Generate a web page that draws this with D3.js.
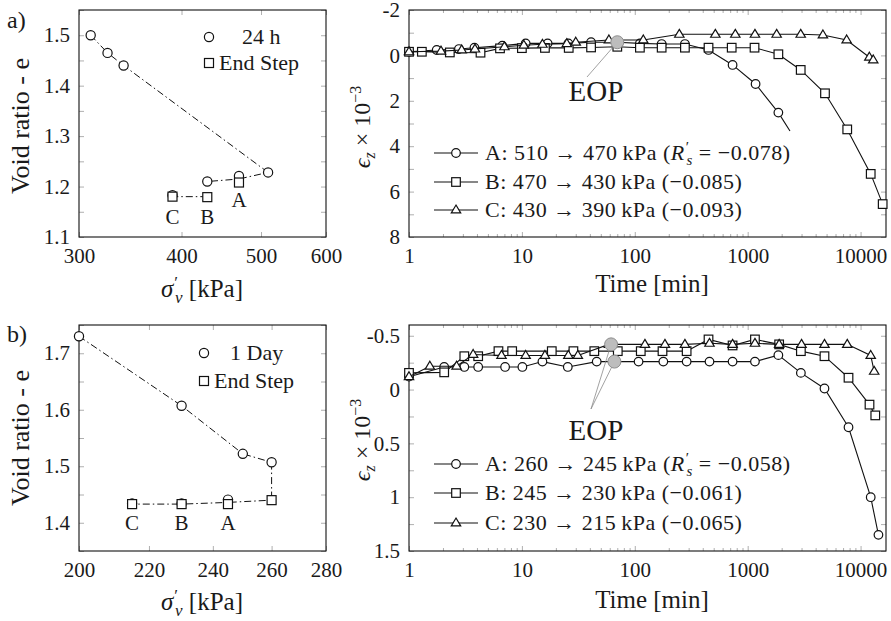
<!DOCTYPE html>
<html>
<head>
<meta charset="utf-8">
<script src="https://cdn.jsdelivr.net/npm/d3@7"></script>
<style>
  body { margin: 0; background: #fff; }
  text { font-family: "Liberation Serif", "DejaVu Serif", serif; fill: #1a1a1a; }
</style>
</head>
<body>
<svg id="fig" width="891" height="621"></svg>
<script>
// ---- a) void ratio vs stress, 24 h readings and end of step
const aStress24h = [310, 325, 340, 510, 470, 430, 390]
const aVoid24h = [1.50, 1.465, 1.44, 1.228, 1.221, 1.21, 1.183]
const aStressEnd = [470, 430, 390]
const aVoidEnd = [1.208, 1.179, 1.18]
const aLinkStress = [310, 325, 340, 510, 470, 430]
const aLinkVoid = [1.50, 1.465, 1.44, 1.228, 1.215, 1.21]
const aLink2Stress = [430, 390]
const aLink2Void = [1.18, 1.18]
const aStepNames = ['A', 'B', 'C']

// ---- a) strain vs time (x1e-3)
const aTimeA = [1, 1.76, 2.77, 3.8, 6.7, 10.8, 16.9, 25.8, 41, 70, 111, 173, 278, 450, 735, 1175, 1870, 2370]
const aStrainA = [-0.16, -0.24, -0.28, -0.34, -0.43, -0.53, -0.53, -0.53, -0.58, -0.58, -0.53, -0.5, -0.5, -0.24, 0.42, 1.26, 2.52, 3.33]
const aTimeB = [1, 1.3, 2.3, 4.3, 6.4, 10, 16, 26, 41, 70, 111, 173, 278, 450, 722, 1150, 1870, 2950, 4840, 7620, 12300, 15700]
const aStrainB = [-0.16, -0.16, -0.13, -0.12, -0.31, -0.32, -0.33, -0.33, -0.35, -0.38, -0.34, -0.34, -0.34, -0.34, -0.34, -0.34, -0.05, 0.64, 1.67, 3.26, 5.22, 6.55]
const aTimeC = [1, 1.92, 2.93, 3.84, 7.0, 10.4, 15.2, 25, 30, 59, 119, 248, 517, 777, 1160, 1806, 2950, 4640, 7530, 11960, 12950]
const aStrainC = [-0.16, -0.19, -0.24, -0.28, -0.38, -0.45, -0.49, -0.52, -0.58, -0.68, -0.68, -0.93, -0.93, -0.93, -0.93, -0.93, -0.93, -0.9, -0.68, 0.08, 0.2]
const aEopTime = [70]
const aEopStrain = [-0.58]
const aLegend = [
  ['A: 510 \u2192 470\u2009kPa (', true, '\u22120.078)'],
  ['B: 470 \u2192 430\u2009kPa (\u22120.085)', false],
  ['C: 430 \u2192 390\u2009kPa (\u22120.093)', false]
]

// ---- b) void ratio vs stress, 1 day readings and end of step
const bStress1d = [200, 230, 250, 260, 245, 230, 215]
const bVoid1d = [1.73, 1.607, 1.522, 1.507, 1.441, 1.434, 1.434]
const bStressEnd = [260, 245, 230, 215]
const bVoidEnd = [1.44, 1.433, 1.433, 1.433]
const bLinkStress = [200, 230, 250, 260, 260, 245, 230, 215]
const bLinkVoid = [1.73, 1.607, 1.522, 1.507, 1.44, 1.436, 1.433, 1.433]

// ---- b) strain vs time (x1e-3)
const bTimeA = [1, 2.05, 3.09, 4.1, 7.1, 10.1, 15.2, 25.5, 46, 66, 108, 179, 288, 459, 735, 1160, 1870, 2960, 4790, 7820, 12300, 14400]
const bStrainA = [-0.12, -0.21, -0.21, -0.21, -0.21, -0.21, -0.26, -0.21, -0.26, -0.26, -0.26, -0.26, -0.26, -0.26, -0.26, -0.26, -0.32, -0.155, -0.01, 0.35, 1.0, 1.35]
const bTimeB = [1, 2.05, 3.09, 4.1, 6.2, 8.2, 18.4, 28.6, 43.8, 70.7, 113, 176, 288, 450, 735, 1160, 1900, 2960, 4790, 7820, 12000, 13500]
const bStrainB = [-0.155, -0.16, -0.31, -0.31, -0.357, -0.357, -0.357, -0.357, -0.357, -0.357, -0.357, -0.357, -0.357, -0.466, -0.41, -0.466, -0.42, -0.357, -0.31, -0.11, 0.14, 0.24]
const bTimeC = [1, 1.53, 2.64, 3.7, 6.6, 10.8, 16, 25.8, 31.3, 59, 123, 185, 278, 459, 735, 1160, 1900, 3000, 4790, 7620, 12300, 13200]
const bStrainC = [-0.12, -0.217, -0.217, -0.326, -0.317, -0.317, -0.317, -0.317, -0.317, -0.42, -0.42, -0.42, -0.42, -0.43, -0.42, -0.43, -0.42, -0.42, -0.42, -0.42, -0.317, -0.17]
const bEopTime = [61.7, 66]
const bEopStrain = [-0.42, -0.26]
const bLegend = [
  ['A: 260 \u2192 245\u2009kPa (', true, '\u22120.058)'],
  ['B: 245 \u2192 230\u2009kPa (\u22120.061)', false],
  ['C: 230 \u2192 215\u2009kPa (\u22120.065)', false]
]

const svg = d3.select('#fig')
const tickGrey = '#9a9a9a'

// scales
const aStressX = d3.scaleLog().domain([300, 600]).range([79, 326])
const aVoidY = d3.scaleLinear().domain([1.1, 1.55]).range([237, 10])
const bStressX = d3.scaleLog().domain([200, 280]).range([79, 326])
const bVoidY = d3.scaleLinear().domain([1.35, 1.75]).range([551, 325])
const timeXa = d3.scaleLog().domain([1, 16800]).range([409, 886])
const timeXb = d3.scaleLog().domain([1, 16800]).range([409, 886])
const aStrainY = d3.scaleLinear().domain([-2, 8]).range([10, 237])
const bStrainY = d3.scaleLinear().domain([-0.6, 1.5]).range([325, 551])

function styleAxis(g, size) {
  g.attr('font-family', null).attr('font-size', size)
  g.select('.domain').remove()
  g.selectAll('.tick line').attr('stroke', tickGrey).attr('stroke-width', 0.8)
}

function frame(x, y, o) {
  const g = svg.append('g')
  const [x0, x1] = x.range()
  const yb = d3.max(y.range()), yt = d3.min(y.range())
  g.append('g').attr('transform', `translate(0,${yb})`)
    .call(d3.axisBottom(x).tickValues(o.xMajor).tickFormat(o.xFmt).tickSize(-5).tickPadding(11))
    .call(a => styleAxis(a, 21))
  g.append('g').attr('transform', `translate(0,${yt})`)
    .call(d3.axisTop(x).tickValues(o.xMajor).tickFormat('').tickSize(-5))
    .call(a => styleAxis(a, 21))
  if (o.xMinor) {
    g.append('g').attr('transform', `translate(0,${yb})`)
      .call(d3.axisBottom(x).tickValues(o.xMinor).tickFormat('').tickSize(-3))
      .call(a => styleAxis(a, 21))
    g.append('g').attr('transform', `translate(0,${yt})`)
      .call(d3.axisTop(x).tickValues(o.xMinor).tickFormat('').tickSize(-3))
      .call(a => styleAxis(a, 21))
  }
  g.append('g').attr('transform', `translate(${x0},0)`)
    .call(d3.axisLeft(y).tickValues(o.yTicks).tickFormat(o.yFmt).tickSize(-5).tickPadding(9))
    .call(a => styleAxis(a, 21))
  g.append('g').attr('transform', `translate(${x1},0)`)
    .call(d3.axisRight(y).tickValues(o.yTicks).tickFormat('').tickSize(-5))
    .call(a => styleAxis(a, 21))
  g.append('rect').attr('x', x0).attr('y', yt).attr('width', x1 - x0).attr('height', yb - yt)
    .attr('fill', 'none').attr('stroke', '#111').attr('stroke-width', 1.1)
}

function marker(g, kind, cx, cy, r) {
  if (kind === 'circle') {
    return g.append('circle').attr('cx', cx).attr('cy', cy).attr('r', r)
  }
  if (kind === 'square') {
    return g.append('rect').attr('x', cx - r).attr('y', cy - r).attr('width', 2 * r).attr('height', 2 * r)
  }
  const h = r * 1.15
  return g.append('path')
    .attr('d', `M${cx},${cy - h}L${cx + h * 0.95},${cy + h * 0.6}L${cx - h * 0.95},${cy + h * 0.6}Z`)
}

function markers(g, kind, xs, ys, x, y, r) {
  xs.forEach((v, i) => {
    marker(g, kind, x(v), y(ys[i]), r)
      .attr('fill', '#fff').attr('stroke', '#111').attr('stroke-width', 1.2)
  })
}

function dashLine(g, xs, ys, x, y) {
  g.append('path')
    .attr('d', d3.line().x(d => x(d[0])).y(d => y(d[1]))(xs.map((v, i) => [v, ys[i]])))
    .attr('fill', 'none').attr('stroke', '#111').attr('stroke-width', 1)
    .attr('stroke-dasharray', '7,3,1.5,3')
}

function series(g, kind, xs, ys, x, y, markCount) {
  g.append('path')
    .attr('d', d3.line().x(d => x(d[0])).y(d => y(d[1]))(xs.map((v, i) => [v, ys[i]])))
    .attr('fill', 'none').attr('stroke', '#111').attr('stroke-width', 1.1)
  const n = markCount == null ? xs.length : markCount
  markers(g, kind, xs.slice(0, n), ys.slice(0, n), x, y, 4.3)
}

function mathText(g, x, y, rot, size, parts) {
  const t = g.append('text').attr('font-size', size)
    .attr('transform', `translate(${x},${y}) rotate(${rot})`)
    .attr('text-anchor', 'middle')
  parts.forEach(p => {
    const s = t.append('tspan').text(p.t)
    if (p.i) s.attr('font-style', 'italic')
    if (p.s) s.attr('font-size', p.s)
    if (p.dx) s.attr('dx', p.dx)
    if (p.dy) s.attr('dy', p.dy)
  })
  return t
}

function sigmaLabel(g, x, y) {
  mathText(g, x, y, 0, 25, [
    { t: '\u03c3', i: true },
    { t: '\u2032', s: 17, dx: 1, dy: -9 },
    { t: 'v', i: true, s: 17, dx: -3, dy: 15 },
    { t: ' [kPa]', dy: -6 }
  ])
}

function strainLabel(g, x, y) {
  mathText(g, x, y, -90, 24, [
    { t: '\u03f5', i: true },
    { t: 'z', i: true, s: 16, dy: 5 },
    { t: ' \u00d7 10', dy: -5 },
    { t: '\u22123', s: 16, dy: -9 }
  ])
}

function voidPanel(x, y, o) {
  frame(x, y, { xMajor: o.xMajor, xFmt: d3.format('d'), yTicks: o.yTicks, yFmt: d => (Math.round(d * 100) % 10 === 0 ? d3.format('.1f')(d) : '') })
  const g = svg.append('g')
  dashLine(g, o.link1[0], o.link1[1], x, y)
  if (o.link2) dashLine(g, o.link2[0], o.link2[1], x, y)
  markers(g, 'circle', o.circ[0], o.circ[1], x, y, 4.6)
  markers(g, 'square', o.sq[0], o.sq[1], x, y, 4.5)
  o.names.forEach((nm, i) => {
    g.append('text').attr('x', x(o.namePos[0][i])).attr('y', o.namePos[1][i])
      .attr('text-anchor', 'middle').attr('font-size', 21).text(nm)
  })
  // legend
  const L = o.legend
  marker(g, 'circle', L.mx, L.y1, 4.6).attr('fill', '#fff').attr('stroke', '#111').attr('stroke-width', 1.2)
  g.append('text').attr('x', L.t1x).attr('y', L.y1 + 7).attr('font-size', 22).text(L.t1)
  marker(g, 'square', L.mx, L.y2, 4.5).attr('fill', '#fff').attr('stroke', '#111').attr('stroke-width', 1.2)
  g.append('text').attr('x', L.t2x).attr('y', L.y2 + 7).attr('font-size', 22).text('End Step')
  // labels
  g.append('text').attr('x', 0).attr('y', 0).attr('font-size', 26)
    .attr('transform', `translate(29,${o.ylabY}) rotate(-90)`).attr('text-anchor', 'middle')
    .text('Void ratio - e')
  sigmaLabel(g, 202, o.xlabY)
  g.append('text').attr('x', 7).attr('y', o.tagY).attr('font-size', 24).text(o.tag)
}

const decadeMinor = []
for (let e = 0; e <= 4; e++) for (let m = 2; m <= 9; m++) if (m * 10 ** e < 16800) decadeMinor.push(m * 10 ** e)

function timePanel(x, y, o) {
  frame(x, y, { xMajor: [1, 10, 100, 1000, 10000], xMinor: decadeMinor, xFmt: d3.format('d'), yTicks: o.yTicks, yFmt: o.yFmt })
  const g = svg.append('g')
  series(g, 'circle', o.A[0], o.A[1], x, y, o.aMarks)
  series(g, 'square', o.B[0], o.B[1], x, y)
  series(g, 'triangle', o.C[0], o.C[1], x, y)
  // EOP annotation
  o.eop[0].forEach((t, i) => {
    g.append('line').attr('x1', o.eopFrom[0]).attr('y1', o.eopFrom[1])
      .attr('x2', x(t)).attr('y2', y(o.eop[1][i]))
      .attr('stroke', '#8a8a8a').attr('stroke-width', 0.8)
  })
  o.eop[0].forEach((t, i) => {
    g.append('circle').attr('cx', x(t)).attr('cy', y(o.eop[1][i])).attr('r', 6.5)
      .attr('fill', '#bdbdbd').attr('stroke', '#8f8f8f').attr('stroke-width', 1)
  })
  g.append('text').attr('x', 596).attr('y', o.eopTextY).attr('text-anchor', 'middle')
    .attr('font-size', 29).text('EOP')
  // legend
  const kinds = ['circle', 'square', 'triangle']
  o.legend.forEach((row, i) => {
    const ly = o.legendY[i]
    g.append('line').attr('x1', 434).attr('x2', 478).attr('y1', ly).attr('y2', ly)
      .attr('stroke', '#111').attr('stroke-width', 1.1)
    marker(g, kinds[i], 456, ly, 4.3).attr('fill', '#fff').attr('stroke', '#111').attr('stroke-width', 1.2)
    const t = g.append('text').attr('x', 485).attr('y', ly + 7).attr('font-size', 22)
      .attr('letter-spacing', 0.5)
    t.append('tspan').text(row[0])
    if (row[1]) {
      t.append('tspan').attr('font-style', 'italic').text('R')
      t.append('tspan').attr('font-size', 15).attr('dx', 1).attr('dy', -8).text('\u2032')
      t.append('tspan').attr('font-size', 15).attr('font-style', 'italic').attr('dx', -3).attr('dy', 13).text('s')
      t.append('tspan').attr('dy', -5).text(' = ' + row[2])
    }
  })
  strainLabel(g, 370, o.ylabY)
  g.append('text').attr('x', 652).attr('y', o.xlabY).attr('text-anchor', 'middle')
    .attr('font-size', 25).text('Time [min]')
}

voidPanel(aStressX, aVoidY, {
  xMajor: [300, 400, 500, 600], yTicks: d3.range(1.1, 1.551, 0.05),
  link1: [aLinkStress, aLinkVoid], link2: [aLink2Stress, aLink2Void],
  circ: [aStress24h, aVoid24h], sq: [aStressEnd, aVoidEnd],
  names: aStepNames, namePos: [[470, 430, 390], [207, 224, 224]],
  legend: { mx: 209, y1: 37, y2: 63, t1: '24 h', t1x: 242, t2x: 219 },
  ylabY: 126, xlabY: 297, tag: 'a)', tagY: 28
})

voidPanel(bStressX, bVoidY, {
  xMajor: [200, 220, 240, 260, 280], yTicks: d3.range(1.35, 1.751, 0.05),
  link1: [bLinkStress, bLinkVoid],
  circ: [bStress1d, bVoid1d], sq: [bStressEnd, bVoidEnd],
  names: aStepNames, namePos: [[245, 230, 215], [530, 530, 530]],
  legend: { mx: 204, y1: 353, y2: 381, t1: '1 Day', t1x: 230, t2x: 214 },
  ylabY: 438, xlabY: 610, tag: 'b)', tagY: 342
})

timePanel(timeXa, aStrainY, {
  yTicks: d3.range(-2, 8.01, 1), yFmt: d => (d % 2 === 0 ? String(d) : ''),
  A: [aTimeA, aStrainA], aMarks: aTimeA.length - 1,
  B: [aTimeB, aStrainB], C: [aTimeC, aStrainC],
  eop: [aEopTime, aEopStrain], eopFrom: [587, 77], eopTextY: 101,
  legend: aLegend, legendY: [153, 182, 210], ylabY: 127, xlabY: 292
})

timePanel(timeXb, bStrainY, {
  yTicks: d3.range(-0.5, 1.51, 0.25), yFmt: d => (Math.abs(d * 2 - Math.round(d * 2)) < 1e-9 ? String(d) : ''),
  A: [bTimeA, bStrainA], B: [bTimeB, bStrainB], C: [bTimeC, bStrainC],
  eop: [bEopTime, bEopStrain], eopFrom: [591, 409], eopTextY: 440,
  legend: bLegend, legendY: [464, 493, 523], ylabY: 440, xlabY: 608
})
</script>
</body>
</html>
